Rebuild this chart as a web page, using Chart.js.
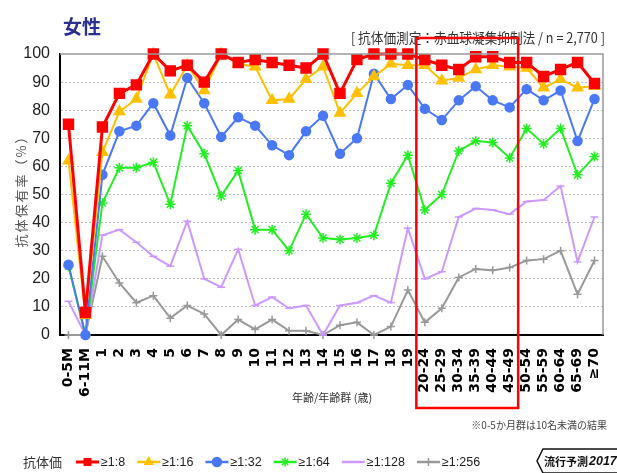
<!DOCTYPE html>
<html><head><meta charset="utf-8">
<script src="https://cdn.jsdelivr.net/npm/chart.js@4.4.1/dist/chart.umd.min.js"></script>
<style>html,body{margin:0;padding:0;background:#fff;}#wrap{width:617px;height:473px;position:relative;}</style>
</head><body><div id="wrap"><canvas id="c" width="617" height="473"></canvas></div>
<script>
const categories = ['0-5M','6-11M','1','2','3','4','5','6','7','8','9','10','11','12','13','14','15','16','17','18','19','20-24','25-29','30-34','35-39','40-44','45-49','50-54','55-59','60-64','65-69','≥70'];
const seriesLabels = ['≥1:8','≥1:16','≥1:32','≥1:64','≥1:128','≥1:256'];
const titer8   = [75, 8, 74, 86, 89, 100, 94, 96, 90, 100, 97, 98, 97, 96, 95, 100, 86, 98, 100, 100, 100, 98, 96, 94.5, 99, 99, 97, 97, 92, 94.5, 97, 89.5];
const titer16  = [62, 7, 65, 79.5, 84, 100, 85.5, 96, 87, 100, 96.5, 95.5, 83.5, 84, 91, 95.5, 79, 86, 92, 96.5, 96, 96, 90.5, 91.5, 94.5, 96, 95.5, 95, 88, 91, 88, 88.5];
const titer32  = [25, 0, 57, 72.5, 74.5, 82.5, 71, 91.5, 82.5, 70.5, 77.5, 74.5, 67.5, 64, 72.5, 78, 64.5, 70, 93, 84, 89, 80.5, 76.5, 83.5, 88.5, 83.5, 81, 87.5, 83.5, 87, 69, 84];
const titer64  = [24.5, 0, 47, 59.5, 59.5, 61.5, 46.5, 74.5, 64.5, 49.5, 58.5, 37.5, 37.5, 30, 43, 34.5, 34, 34.5, 35.5, 54, 64, 44.5, 50, 65.5, 69, 68.5, 63, 73.5, 68, 73.5, 57, 63.5];
const titer128 = [12, 0, 35.5, 37.5, 33, 28, 24.5, 40.5, 20, 17, 30.5, 10.5, 13.5, 9.5, 10.5, 0, 10.5, 11.5, 14, 11.5, 38, 20, 22.5, 42, 45, 44.5, 43, 47.5, 48, 53, 26, 42];
const titer256 = [0, 0, 28, 18.5, 11.5, 14, 6, 10.5, 7.5, 0, 5.5, 2, 5.5, 1.5, 1.5, 0, 3.5, 4.5, 0, 3, 16, 4.5, 9.5, 20.5, 23.5, 23, 24, 26.5, 27, 30, 14.5, 26.5];
const yTicks = [0,10,20,30,40,50,60,70,80,90,100];
const highlightFrom = '20-24', highlightTo = '45-49';

const colors = ['#FF0000','#FFC000','#4A78F5','#22EE22','#CC99FF','#999999'];
const styles = [
  {pointStyle:'rect', radius:7, bw:3},
  {pointStyle:'triangle', radius:6, bw:2},
  {pointStyle:'circle', radius:4.5, bw:2},
  {pointStyle:'star', radius:5, bw:2},
  {pointStyle:'line', radius:4, bw:2},
  {pointStyle:'cross', radius:4, bw:2}
];
const seriesData = [titer8,titer16,titer32,titer64,titer128,titer256];

const datasets = seriesData.map((d,i)=>({
  label: seriesLabels[i], data: d,
  borderColor: colors[i], backgroundColor: colors[i],
  borderWidth: styles[i].bw, pointStyle: styles[i].pointStyle,
  pointRadius: styles[i].radius, pointHoverRadius: styles[i].radius,
  pointBorderColor: colors[i], pointBackgroundColor: colors[i], pointBorderWidth: 1.5,
  tension: 0, clip: false
}));

const JP = '"Noto Sans CJK JP", "Noto Sans", sans-serif';

const decor = {
  id:'decor',
  beforeDraw(chart){
    const ctx = chart.ctx; ctx.save(); ctx.fillStyle='#fff'; ctx.fillRect(0,0,chart.width,chart.height); ctx.restore();
  },
  afterDraw(chart){
    const ctx = chart.ctx, a = chart.chartArea, xs = chart.scales.x;
    ctx.save();
    // top & right border
    ctx.strokeStyle='#999'; ctx.lineWidth=1.5;
    ctx.beginPath(); ctx.moveTo(a.left, a.top); ctx.lineTo(a.right, a.top); ctx.lineTo(a.right, a.bottom); ctx.stroke();
    // title
    ctx.fillStyle='#2B2F8F'; ctx.font='bold 19px '+JP; ctx.textBaseline='middle'; ctx.textAlign='left';
    ctx.fillText('女性', 63, 27);
    // subtitle
    const sub='[ 抗体価測定：赤血球凝集抑制法 / n = 2,770 ]';
    ctx.font='14px '+JP; ctx.fillStyle='#333';
    const w = ctx.measureText(sub).width, target=254;
    ctx.save(); ctx.translate(605,38); const s=Math.min(1,target/w); ctx.scale(s,1);
    ctx.textAlign='right'; ctx.fillText(sub,0,0); ctx.restore();
    // y title
    ctx.save(); ctx.translate(21,188); ctx.rotate(-Math.PI/2); ctx.textAlign='center'; ctx.font='13px '+JP; ctx.fillStyle='#555';
    try { ctx.letterSpacing='2px'; } catch(e){}
    ctx.fillText('抗体保有率（%）',0,0); ctx.restore();
    // x title
    ctx.font='11px '+JP; ctx.fillStyle='#333'; ctx.textAlign='center';
    ctx.fillText('年齢/年齢群 (歳)', 332, 398);
    // footnote
    ctx.font='10px '+JP; ctx.textAlign='right'; ctx.fillStyle='#444';
    ctx.fillText('※0-5か月群は10名未満の結果', 607, 425);
    // highlight rectangle
    const step = xs.getPixelForValue(1)-xs.getPixelForValue(0);
    const i0 = categories.indexOf(highlightFrom), i1 = categories.indexOf(highlightTo);
    const L = xs.getPixelForValue(i0)-step/2, R = xs.getPixelForValue(i1)+step/2;
    ctx.strokeStyle='#FF0000'; ctx.lineWidth=2.5; ctx.strokeRect(L, 38, R-L, 370);
    // legend
    ctx.textAlign='left'; ctx.textBaseline='middle';
    ctx.font='13px '+JP; ctx.fillStyle='#333'; ctx.fillText('抗体価', 23, 462);
    let x = 76; const ly = 462;
    ctx.font='12.5px "Liberation Sans", sans-serif';
    chart.data.datasets.forEach((ds,i)=>{
      ctx.strokeStyle=ds.borderColor; ctx.fillStyle=ds.borderColor; ctx.lineWidth=i===0?3:2.5;
      ctx.beginPath(); ctx.moveTo(x,ly); ctx.lineTo(x+23,ly); ctx.stroke();
      ctx.lineWidth=1.5;
      Chart.helpers.drawPoint(ctx,{pointStyle:ds.pointStyle, radius:Math.min(ds.pointRadius,4.5), rotation:0, borderWidth:1.5}, x+11.5, ly);
      ctx.fillStyle='#222';
      ctx.fillText(ds.label, x+25, ly+1);
      x += 25 + ctx.measureText(ds.label).width + 12;
    });
    // logo
    ctx.strokeStyle='#111'; ctx.lineWidth=1.5;
    ctx.beginPath(); ctx.moveTo(543,449); ctx.lineTo(618,449); ctx.lineTo(618,473); ctx.lineTo(543,473); ctx.lineTo(537,461); ctx.closePath(); ctx.stroke();
    ctx.fillStyle='#111'; ctx.font='bold 11px '+JP; ctx.textAlign='left';
    ctx.fillText('流行予測', 544, 462);
    const tw = ctx.measureText('流行予測').width;
    ctx.font='italic bold 12.5px "Liberation Sans", sans-serif';
    ctx.fillText('2017', 544+tw+1, 462);
    ctx.restore();
  }
};

new Chart(document.getElementById('c'), {
  type:'line',
  data:{ labels: categories, datasets },
  options:{
    responsive:false, animation:false, devicePixelRatio:1,
    layout:{ padding:{ top:54, right:14, left:0, bottom:0 } },
    plugins:{ legend:{display:false}, tooltip:{enabled:false}, title:{display:false} },
    scales:{
      x:{
        offset:true,
        grid:{ display:false, drawTicks:false },
        border:{ display:true, color:'#000', width:2 },
        ticks:{ minRotation:90, maxRotation:90, autoSkip:false, padding:13, color:'#000',
          font:{ family:'"DejaVu Sans", sans-serif', size:14, weight:'bold' } },
        afterFit(s){ s.height = 138; s.paddingLeft = 0; s.paddingRight = 0; }
      },
      y:{
        min:0, max:100,
        afterBuildTicks(s){ s.ticks = yTicks.map(v=>({value:v})); },
        grid:{ color:(c)=> (c.tick && (c.tick.value===0||c.tick.value===100)) ? 'rgba(0,0,0,0)' : '#bdbdbd', lineWidth:1, drawTicks:false },
        border:{ display:true, color:'#000', width:2, dash:[2,2] },
        ticks:{ padding:10, color:'#222', font:{ family:'"Liberation Sans Narrow", "Liberation Sans", sans-serif', size:16 } },
        afterFit(s){ s.width = 60; s.paddingTop = 0; s.paddingBottom = 0; }
      }
    }
  },
  plugins:[decor]
});
</script></body></html>
